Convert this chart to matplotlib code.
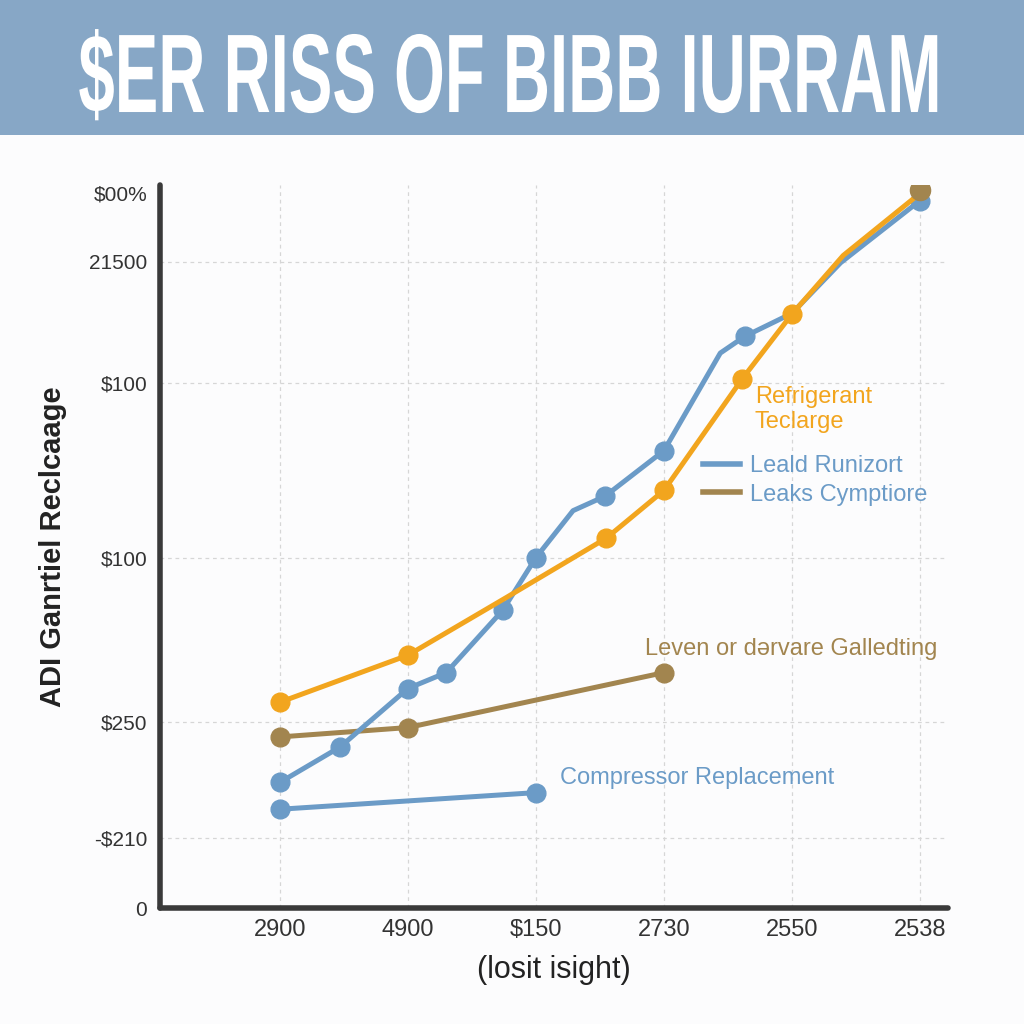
import matplotlib
matplotlib.use("Agg")
import matplotlib.pyplot as plt
from matplotlib.lines import Line2D
from matplotlib.patches import Rectangle
from matplotlib.patheffects import AbstractPathEffect
from matplotlib.transforms import Affine2D

plt.rcParams["font.family"] = ["Liberation Sans", "DejaVu Sans"]

# Palette
BLUE = "#6B9BC7"
ORANGE = "#F2A51E"
BROWN = "#A2854F"
BANNER = "#87A7C6"
TEXT_COLOR = "#333333"
GRID_COLOR = "#D6D6D6"

# Data
x_ticks = [0, 1, 2, 3, 4, 5]
x_labels = ["2900", "4900", "$150", "2730", "2550", "2538"]
y_ticks = [0, 9.7, 25.7, 48.5, 72.6, 89.4, 98.9]
y_labels = ["0", "-$210", "$250", "$100", "$100", "21500", "$00%"]

refrig_x = [0, 1, 1.77, 2.55, 3.0, 3.61, 4.0, 4.4, 5.0]
refrig_y = [28.5, 35.0, 43.0, 51.2, 57.8, 73.2, 82.2, 90.3, 98.9]
refrig_marks = [0, 1, 3, 4, 5, 6]

leald_x = [0, 0.47, 1.0, 1.3, 1.74, 2.0, 2.29, 2.54, 3.0, 3.44, 3.63, 4.0, 4.38, 5.0]
leald_y = [17.4, 22.3, 30.4, 32.6, 41.2, 48.5, 55.0, 57.0, 63.3, 76.8, 79.1, 82.3, 89.3, 97.9]
leald_marks = [0, 1, 2, 3, 4, 5, 7, 8, 10, 13]

leven_x = [0, 1, 3]
leven_y = [23.7, 25.0, 32.6]
leaks_x = [5.0]
leaks_y = [99.3]

comp_x = [0, 2]
comp_y = [13.7, 16.0]


class Stretch(AbstractPathEffect):
    """Scale a text's glyphs around a fixed figure point (poster-style tall title)."""
    def __init__(self, fig, anchor, sx, sy):
        super().__init__()
        self.fig, self.anchor, self.sx, self.sy = fig, anchor, sx, sy

    def draw_path(self, renderer, gc, tpath, affine, rgbFace=None):
        cx, cy = self.fig.transFigure.transform(self.anchor)
        t = affine + Affine2D().translate(-cx, -cy).scale(self.sx, self.sy).translate(cx, cy)
        renderer.draw_path(gc, tpath, t, rgbFace)


fig = plt.figure(figsize=(10.24, 10.24), dpi=100, facecolor="#FCFCFD")

# Title banner
fig.patches.append(Rectangle((0, 0.868), 1, 0.132, transform=fig.transFigure,
                             facecolor=BANNER, edgecolor="none", zorder=0))
title_pos = (0.498, 0.8906)
fig.text(*title_pos, "$ER RISS OF BIBB IURRAM", ha="center", va="baseline",
         fontsize=50, fontweight="bold", color="white",
         path_effects=[Stretch(fig, title_pos, 0.94, 1.61)])

ax = fig.add_axes([0.156, 0.113, 0.770, 0.706])
ax.set_facecolor("none")

lw = 3.6
ms = 13.5
ax.plot(comp_x, comp_y, color=BLUE, lw=lw, marker="o", ms=ms, zorder=3)
ax.plot(leven_x, leven_y, color=BROWN, lw=lw, marker="o", ms=ms, zorder=3)
ax.plot(leald_x, leald_y, color=BLUE, lw=lw, marker="o", ms=ms,
        markevery=leald_marks, zorder=4)
ax.plot(refrig_x, refrig_y, color=ORANGE, lw=lw, marker="o", ms=ms,
        markevery=refrig_marks, zorder=5)
ax.plot(leaks_x, leaks_y, color=BROWN, lw=0, marker="o", ms=ms + 1, zorder=6)

# Direct labels
lab_fs = 17
ax.text(3.71, 69.0, "Refrigerant\nTeclarge", color=ORANGE, fontsize=lab_fs,
        ha="left", va="center", linespacing=1.2)
ax.text(2.85, 35.8, "Leven or d\u0259rvare Galledting", color=BROWN,
        fontsize=lab_fs, ha="left", va="center")
ax.text(2.19, 18.0, "Compressor Replacement", color=BLUE,
        fontsize=lab_fs, ha="left", va="center")

handles = [Line2D([], [], color=BLUE, lw=4), Line2D([], [], color=BROWN, lw=4)]
leg = ax.legend(handles, ["Leald Runizort", "Leaks Cymptiore"],
                loc="upper left", bbox_to_anchor=(0.689, 0.627),
                frameon=False, fontsize=lab_fs, handlelength=1.55,
                handletextpad=0.45, labelspacing=0.28,
                borderpad=0, borderaxespad=0)
for t in leg.get_texts():
    t.set_color(BLUE)

# Axes styling
ax.set_xlim(-0.9375, 5.22)
ax.set_ylim(0, 100)
ax.set_xticks(x_ticks)
ax.set_xticklabels(x_labels, fontsize=17, color=TEXT_COLOR)
ax.set_yticks(y_ticks)
ax.set_yticklabels(y_labels, fontsize=15, color=TEXT_COLOR)
ax.tick_params(axis="y", length=0, pad=9)
ax.tick_params(axis="x", length=0, pad=8)

ax.grid(True, color=GRID_COLOR, linestyle=(0, (3, 3)), linewidth=0.9)
for gl, v in zip(ax.get_ygridlines(), y_ticks):
    if v in (0, 98.9):
        gl.set_visible(False)

ax.spines[["top", "right"]].set_visible(False)
for s in ("left", "bottom"):
    ax.spines[s].set_linewidth(4)
    ax.spines[s].set_color("#3A3A3A")
    ax.spines[s].set_capstyle("round")

ax.set_ylabel("ADI Ganrtiel Reclcaage", fontsize=21, fontweight="bold",
              color="#222222", labelpad=16)
ax.set_xlabel("(losit isight)", fontsize=22, color="#222222", labelpad=10)

fig.savefig("out.png", dpi=100, facecolor=fig.get_facecolor())
